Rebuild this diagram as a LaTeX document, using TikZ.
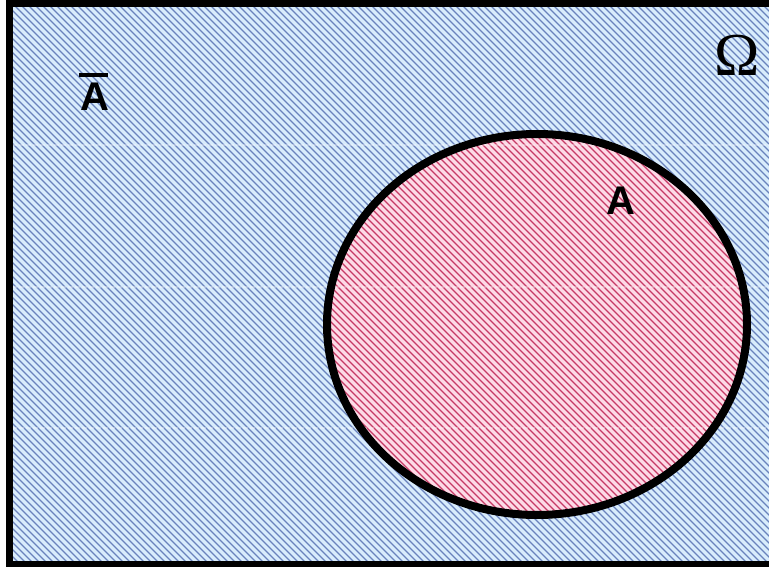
\documentclass[tikz,border=0pt]{standalone}
\usepackage{fontspec}
\usetikzlibrary{shapes.geometric}
\newfontfamily\labsans{Liberation Sans}
\newfontfamily\labserif{Liberation Serif}
\definecolor{bluebg}{RGB}{216,236,252}
\definecolor{blueline}{RGB}{105,130,188}
\definecolor{pinkbg}{RGB}{253,218,230}
\definecolor{redline}{RGB}{198,58,102}
\tikzset{
  hatch/.style={line width=1.3pt},
  seam/.style={white, opacity=0.35, line width=1.2pt, dash pattern=on 5pt off 2pt},
  setlabel/.style={inner sep=0pt, font=\labsans\bfseries\fontsize{40}{40}\selectfont},
}
\begin{document}
\begin{tikzpicture}[x=1pt,y=-1pt]
\useasboundingbox (0,0) rectangle (769,567);
% universe background
\fill[bluebg] (8,4) rectangle (790,564);
\begin{scope}
  \clip (8,4) rectangle (790,564);
  \foreach \i in {-600,-593,...,800} \draw[hatch,blueline] (\i,0) -- ++(600,600);
\end{scope}
% set A
\fill[pinkbg] (537,324.5) ellipse [x radius=210, y radius=190.5];
\begin{scope}
  \clip (537,324.5) ellipse [x radius=210, y radius=190.5];
  \foreach \i in {-600,-593,...,800} \draw[hatch,redline] (\i,0) -- ++(600,600);
\end{scope}
% faint tile seams
\foreach \y in {145,287,428} \draw[seam] (12,\y) -- (769,\y);
\node[draw=black, line width=8pt, ellipse, minimum width=420pt, minimum height=381pt, inner sep=0pt] (setA) at (537,324.5) {};
% frame
\draw[line width=7pt] (790,4) -- (9,4) -- (9,564) -- (790,564);
% labels
\node[setlabel] (abar) at (95,92) {\makebox[0pt][l]{\hspace{-1.5pt}\raisebox{33pt}{\rule{29pt}{4pt}}}A};
\node[setlabel] (alab) at (621,201) {A};
\node[inner sep=0pt, font=\labserif\fontsize{61}{61}\selectfont] (omega) at (737,55) {Ω};
\end{tikzpicture}
\end{document}
